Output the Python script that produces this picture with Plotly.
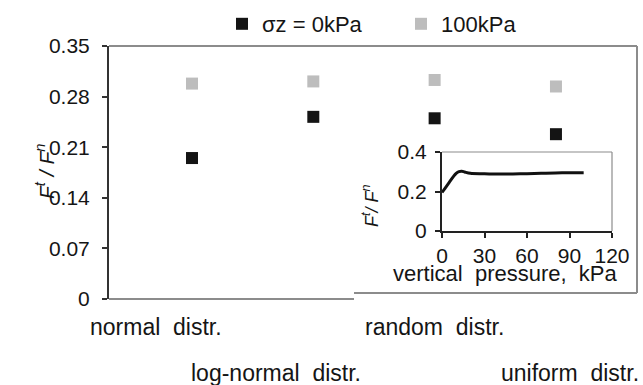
import plotly.graph_objects as go

# ---------------- data ----------------
categories = ["normal  distr.", "log-normal  distr.", "random  distr.", "uniform  distr."]
cat_index = [1, 2, 3, 4]
series_names = ["σz = 0kPa", "100kPa"]
ratio_0kpa = [0.195, 0.252, 0.250, 0.228]
ratio_100kpa = [0.298, 0.301, 0.303, 0.294]

pressure_kpa = [0, 2, 5, 8, 10, 12, 14, 16, 20, 30, 40, 50, 60, 70, 80, 90, 100]
ratio_curve = [0.195, 0.215, 0.245, 0.275, 0.292, 0.301, 0.303, 0.299, 0.292, 0.290,
               0.288, 0.289, 0.290, 0.292, 0.294, 0.295, 0.295]

main_y_ticks = [0, 0.07, 0.14, 0.21, 0.28, 0.35]
inset_x_ticks = [0, 30, 60, 90, 120]
inset_y_ticks = [0, 0.2, 0.4]

# ---------------- layout helpers ----------------
W, H = 643, 385
def px(x):
    return x / W
def py(y):
    return 1 - y / H

MX0, MX1, MY0, MY1 = 109, 637, 46, 299

FONT = "Liberation Sans, Arial, sans-serif"
TXT = "#151515"
GRAY = "#8c8c8c"

fig = go.Figure()

fig.add_trace(go.Scatter(
    x=cat_index, y=ratio_0kpa, mode="markers", name=series_names[0],
    marker=dict(symbol="square", size=12, color="#141414"),
    xaxis="x", yaxis="y"))
fig.add_trace(go.Scatter(
    x=cat_index, y=ratio_100kpa, mode="markers", name=series_names[1],
    marker=dict(symbol="square", size=12, color="#bdbdbd"),
    xaxis="x", yaxis="y"))
fig.add_trace(go.Scatter(
    x=pressure_kpa, y=ratio_curve, mode="lines", showlegend=False,
    line=dict(color="#111111", width=3, shape="spline"),
    xaxis="x2", yaxis="y2"))

def fmt(v):
    s = f"{v:.2f}".rstrip("0").rstrip(".")
    return s

def pline(x0, y0, x1, y1, w=2):
    return dict(type="line", xref="paper", yref="paper",
                x0=px(x0), x1=px(x1), y0=py(y0), y1=py(y1),
                line=dict(color=GRAY, width=w), layer="above")

shapes = [
    # main plot frame: top and right edge
    pline(MX0, MY0, MX1, MY0),
    pline(MX1, MY0, MX1, 293),
    # main bottom edge (left part) and inset box bottom edge
    pline(MX0, MY1, 354, MY1),
    pline(354, 293, MX1, 293),
    # inset plot area top/right border
    dict(type="line", xref="x2 domain", yref="y2 domain",
         x0=0, x1=1, y0=1, y1=1, line=dict(color=GRAY, width=1.2), layer="above"),
    dict(type="line", xref="x2 domain", yref="y2 domain",
         x0=1, x1=1, y0=0, y1=1, line=dict(color=GRAY, width=1.2), layer="above"),
]

annotations = []
label_x = [156, 276, 434, 570]
label_y = [327, 373, 327, 373]
for name, lx, ly in zip(categories, label_x, label_y):
    annotations.append(dict(text=name, xref="paper", yref="paper",
                            x=px(lx), y=py(ly), showarrow=False,
                            xanchor="center", yanchor="middle",
                            font=dict(family=FONT, size=23, color=TXT)))
annotations.append(dict(text="<i>F</i><sup><i>t</i></sup><i> / F</i><sup><i>n</i></sup>",
                        xref="paper", yref="paper", x=px(30), y=py(172),
                        textangle=-90, showarrow=False,
                        font=dict(family=FONT, size=21, color=TXT)))
annotations.append(dict(text="<i>F</i><sup><i>t</i></sup><i>/ F</i><sup><i>n</i></sup>",
                        xref="paper", yref="paper", x=px(371), y=py(205),
                        textangle=-90, showarrow=False,
                        font=dict(family=FONT, size=18, color=TXT)))
annotations.append(dict(text="vertical  pressure,  kPa",
                        xref="paper", yref="paper", x=px(505), y=py(273),
                        showarrow=False, xanchor="center", yanchor="middle",
                        font=dict(family=FONT, size=22, color=TXT)))

fig.update_layout(
    template="none",
    width=W, height=H,
    margin=dict(l=0, r=0, t=0, b=0, autoexpand=False),
    paper_bgcolor="white", plot_bgcolor="rgba(0,0,0,0)",
    font=dict(family=FONT, size=20, color=TXT),
    showlegend=True,
    legend=dict(orientation="h", x=px(222), y=py(3), xanchor="left", yanchor="top",
                font=dict(family=FONT, size=22, color=TXT),
                entrywidth=134, entrywidthmode="pixels",
                itemwidth=30, bgcolor="rgba(0,0,0,0)", traceorder="normal"),
    xaxis=dict(domain=[px(MX0), px(MX1)], range=[0.316, 4.668],
               showticklabels=False, showgrid=False, zeroline=False,
               showline=False, ticks="", anchor="y", automargin=False),
    yaxis=dict(domain=[py(MY1), py(MY0)], range=[0, 0.35],
               tickvals=main_y_ticks, ticktext=[fmt(v) for v in main_y_ticks],
               ticks="outside", ticklen=5, tickwidth=1.5, tickcolor="#333333",
               showline=True, linecolor="#333333", linewidth=2,
               showgrid=False, zeroline=False, ticklabelstandoff=8,
               tickfont=dict(family=FONT, size=21, color=TXT), anchor="x",
               automargin=False),
    xaxis2=dict(domain=[px(442), px(612)], range=[0, 120],
                tickvals=inset_x_ticks, ticks="outside", ticklen=5, tickwidth=1.5,
                tickcolor="#222222", showline=True, linecolor="#222222", linewidth=2,
                showgrid=False, zeroline=False, anchor="y2", ticklabelstandoff=0,
                tickfont=dict(family=FONT, size=21, color=TXT), automargin=False),
    yaxis2=dict(domain=[py(231), py(152)], range=[0, 0.4],
                tickvals=inset_y_ticks, ticktext=[fmt(v) for v in inset_y_ticks],
                ticks="outside", ticklen=5, tickwidth=1.5,
                tickcolor="#222222", showline=True, linecolor="#222222", linewidth=2,
                showgrid=False, zeroline=False, anchor="x2", ticklabelstandoff=4,
                tickfont=dict(family=FONT, size=21, color=TXT), automargin=False),
    shapes=shapes,
    annotations=annotations,
)

fig.write_html("out.html")
